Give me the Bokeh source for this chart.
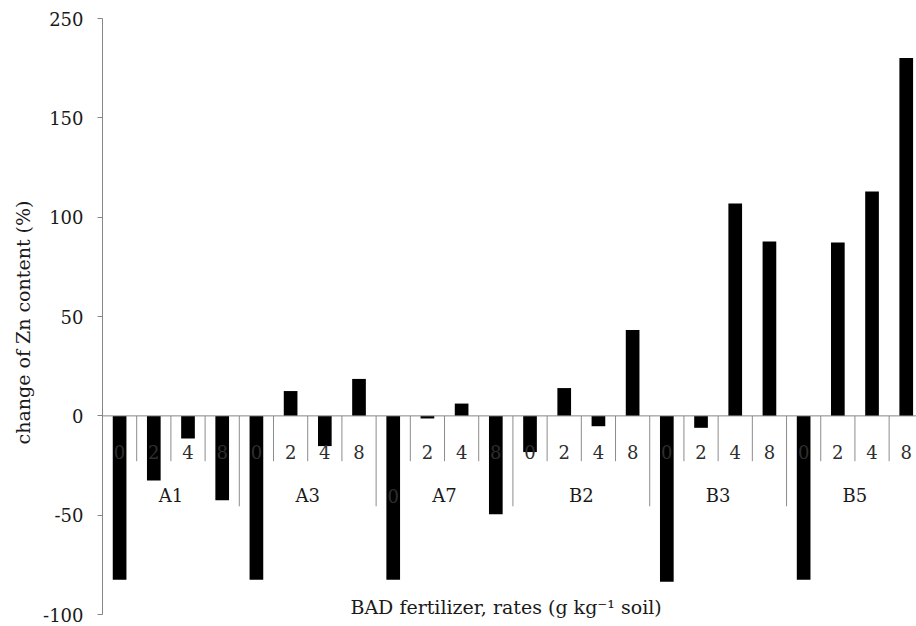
import numpy as np
from bokeh.plotting import figure
from bokeh.models import ColumnDataSource, Span, Label, FixedTicker, Range1d
from bokeh.core.properties import value
from bokeh.embed import file_html
from bokeh.resources import INLINE

# ---- data ----
groups = ["A1", "A3", "A7", "B2", "B3", "B5"]
rates = ["0", "2", "4", "8"]
A1 = [-82.5, -32.5, -11.4, -42.5]
A3 = [-82.5, 12.5, -15.2, 18.6]
A7 = [-82.5, -1.3, 6.2, -49.5]
B2 = [-18.2, 14.0, -5.2, 43.2]
B3 = [-83.5, -6.0, 106.9, 87.8]
B5 = [-82.5, 87.3, 112.9, 180.1]
y_ticks = [-100, -50, 0, 50, 100, 150, 200]
y_tick_labels = ["-100", "-50", "0", "50", "100", "150", "250"]
y_title = "change of Zn content (%)"
x_title = "BAD fertilizer, rates (g kg\u207b\u00b9 soil)"

FONT = "DejaVu Serif"
series = [A1, A3, A7, B2, B3, B5]
n_rates = len(rates)
n_bars = len(groups) * n_rates

vals = [v for s in series for v in s]
xs = [i + 0.5 for i in range(n_bars)]
grp = [g for g in groups for _ in rates]
rte = [r for _ in groups for r in rates]

x_end = n_bars - 0.2
p = figure(width=916, height=626, output_backend="svg", toolbar_location=None,
           x_range=Range1d(0, x_end), y_range=Range1d(-106, 200),
           x_axis_location=None, min_border_left=102, min_border_right=0,
           min_border_top=18, min_border_bottom=0)
p.outline_line_color = None
p.grid.visible = False
p.background_fill_color = "white"
p.border_fill_color = "white"

# y axis
ax = p.yaxis[0]
ax.ticker = FixedTicker(ticks=y_ticks)
ax.bounds = (min(y_ticks), max(y_ticks))
ax.major_label_overrides = {t: l for t, l in zip(y_ticks, y_tick_labels)}
ax.axis_line_color = "#868686"
ax.major_tick_line_color = "#868686"
ax.major_tick_out = 5
ax.major_tick_in = 0
ax.minor_tick_line_color = None
ax.major_label_text_font = FONT
ax.major_label_text_font_size = "18px"
ax.major_label_text_color = "#1a1a1a"
ax.major_label_standoff = 14
ax.axis_label = y_title
ax.axis_label_text_font = FONT
ax.axis_label_text_font_size = "19px"
ax.axis_label_text_font_style = "normal"
ax.axis_label_text_color = "#1a1a1a"
ax.axis_label_standoff = 6

# category axis line at zero
p.add_layout(Span(location=0, dimension="width", line_color="#868686", line_width=1))

# separators between categories (long between groups)
bounds = np.arange(1, n_bars)
is_group = (bounds % n_rates) == 0
sep_y1 = np.where(is_group, -45.5, -22.8)
p.segment(x0=bounds, y0=np.zeros_like(bounds, dtype=float), x1=bounds, y1=sep_y1,
          line_color="#8c8c8c", line_width=1)

# bars
src = ColumnDataSource(dict(x=xs, top=vals, grp=grp, rte=rte))
p.vbar(x="x", top="top", bottom=0, width=0.4, source=src,
       fill_color="black", line_color=None)

# rate labels (drawn over the bars, as in the reference)
sub_y = np.full(n_bars, -18.4)
low = [(g == "A7" and r == "0") for g, r in zip(grp, rte)]
sub_y = np.where(low, -40.3, sub_y)
p.text(x=xs, y=sub_y, text=rte, text_align="center", text_baseline="middle",
       text_font=value(FONT), text_font_size="18px", text_color="#2e2e2e")

# group labels
gx = [k * n_rates + n_rates / 2 for k in range(len(groups))]
p.text(x=gx, y=[-40.3] * len(groups), text=groups, text_align="center",
       text_baseline="middle", text_font=value(FONT), text_font_size="18px",
       text_color="#1a1a1a")

# x axis title
p.add_layout(Label(x=x_end / 2 - 0.1, y=-96, text=x_title, text_align="center",
                   text_baseline="middle", text_font=FONT, text_font_size="19px",
                   text_color="#1a1a1a"))

open("out.html", "w").write(file_html(p, INLINE))
